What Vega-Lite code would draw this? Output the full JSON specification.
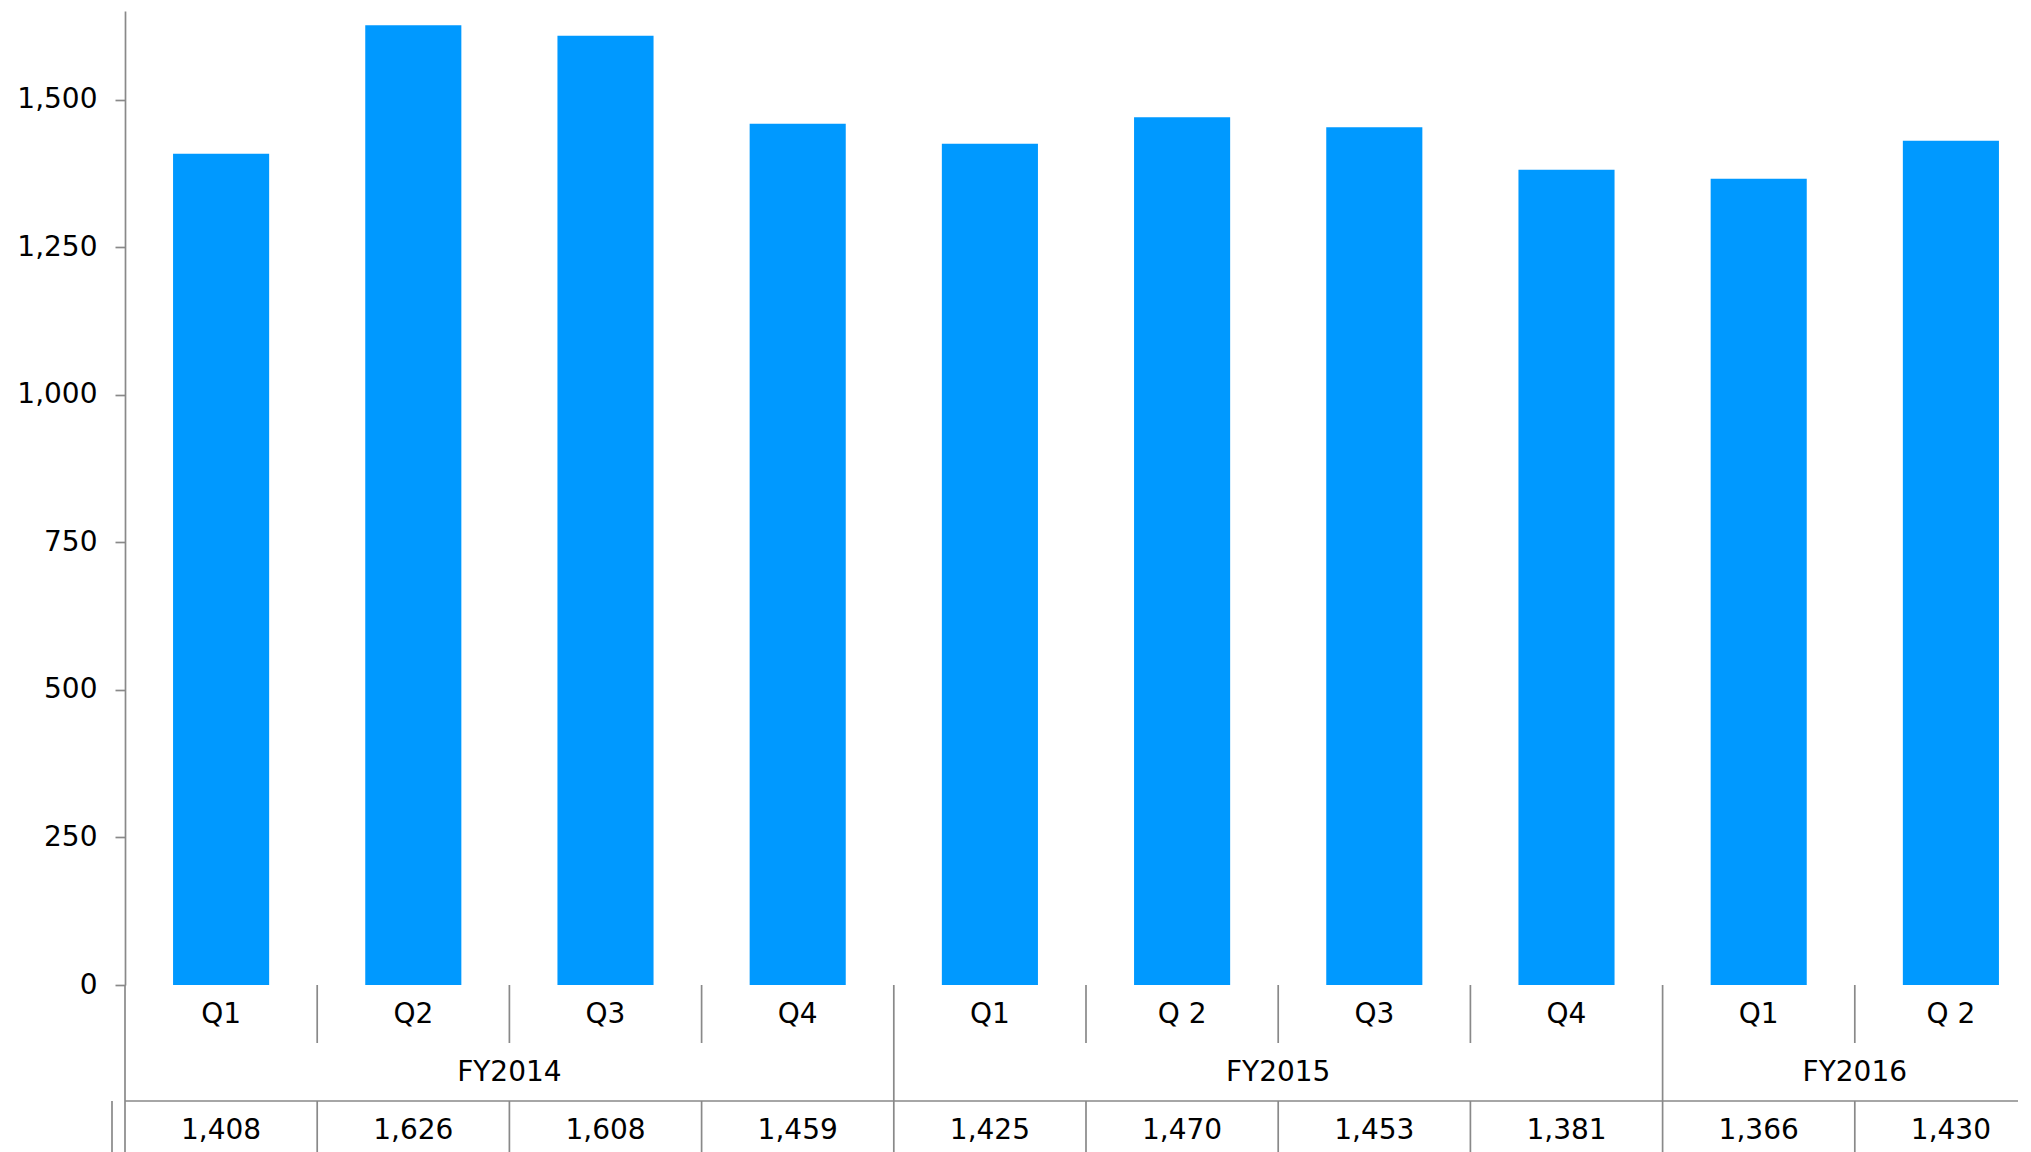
{
  "$schema": "https://vega.github.io/schema/vega-lite/v6.json",
  "width": 1906,
  "height": 974,
  "autosize": {"type": "none"},
  "padding": {"left": 125, "top": 11, "right": 0, "bottom": 167},
  "background": "white",
  "config": {
    "view": {"stroke": null},
    "font": "DejaVu Sans",
    "text": {"font": "DejaVu Sans", "fontSize": 28, "color": "#000000", "dy": 1},
    "rule": {"color": "#898989", "strokeWidth": 1.7}
  },
  "datasets": {
    "quarters": [
      {"period": "FY2014 Q1", "fy": "FY2014", "q": "Q1", "amount": 1408},
      {"period": "FY2014 Q2", "fy": "FY2014", "q": "Q2", "amount": 1626},
      {"period": "FY2014 Q3", "fy": "FY2014", "q": "Q3", "amount": 1608},
      {"period": "FY2014 Q4", "fy": "FY2014", "q": "Q4", "amount": 1459},
      {"period": "FY2015 Q1", "fy": "FY2015", "q": "Q1", "amount": 1425},
      {"period": "FY2015 Q2", "fy": "FY2015", "q": "Q 2", "amount": 1470},
      {"period": "FY2015 Q3", "fy": "FY2015", "q": "Q3", "amount": 1453},
      {"period": "FY2015 Q4", "fy": "FY2015", "q": "Q4", "amount": 1381},
      {"period": "FY2016 Q1", "fy": "FY2016", "q": "Q1", "amount": 1366},
      {"period": "FY2016 Q2", "fy": "FY2016", "q": "Q 2", "amount": 1430}
    ],
    "years": [
      {"fy": "FY2014", "mid": "FY2014 Q3"},
      {"fy": "FY2015", "mid": "FY2015 Q3"},
      {"fy": "FY2016", "mid": "FY2016 Q2"}
    ]
  },
  "data": {"name": "quarters"},
  "resolve": {"scale": {"y": "independent"}},
  "layer": [
    {
      "mark": {"type": "bar", "color": "#0099ff", "width": {"band": 0.5}},
      "encoding": {
        "x": {
          "field": "period",
          "type": "nominal",
          "sort": null,
          "scale": {
            "domain": ["FY2014 Q1", "FY2014 Q2", "FY2014 Q3", "FY2014 Q4", "FY2015 Q1", "FY2015 Q2", "FY2015 Q3", "FY2015 Q4", "FY2016 Q1", "FY2016 Q2"],
            "range": [0, 1922],
            "paddingInner": 0,
            "paddingOuter": 0
          },
          "axis": {"labels": false, "ticks": false, "title": null, "domainColor": "#898989", "domainWidth": 1.7}
        },
        "y": {
          "field": "amount",
          "type": "quantitative",
          "scale": {"domain": [0, 1650], "nice": false},
          "axis": {
            "values": [0, 250, 500, 750, 1000, 1250, 1500],
            "format": ",.0f",
            "labelFont": "DejaVu Sans",
            "labelFontSize": 28,
            "labelColor": "#000000",
            "tickColor": "#898989",
            "tickWidth": 1.7,
            "tickSize": 10,
            "labelPadding": 18,
            "domainColor": "#898989",
            "domainWidth": 1.7,
            "grid": false,
            "title": null
          }
        }
      }
    },
    {
      "mark": {"type": "text"},
      "encoding": {
        "x": {"field": "period", "type": "nominal", "sort": null, "axis": null},
        "y": {"datum": 0.5, "type": "quantitative", "scale": {"domain": [0, 3], "range": [974, 1148], "nice": false, "zero": false}, "axis": null},
        "text": {"field": "q"}
      }
    },
    {
      "mark": {"type": "rule"},
      "encoding": {
        "x": {"field": "period", "type": "nominal", "sort": null, "bandPosition": 0, "axis": null},
        "y": {"datum": 0, "type": "quantitative", "scale": {"domain": [0, 3], "range": [974, 1148], "nice": false, "zero": false}, "axis": null},
        "y2": {"datum": 1}
      }
    },
    {
      "transform": [{"filter": "datum.q === 'Q1'"}],
      "mark": {"type": "rule"},
      "encoding": {
        "x": {"field": "period", "type": "nominal", "sort": null, "bandPosition": 0, "axis": null},
        "y": {"datum": 1, "type": "quantitative", "scale": {"domain": [0, 3], "range": [974, 1148], "nice": false, "zero": false}, "axis": null},
        "y2": {"datum": 2}
      }
    },
    {
      "data": {"name": "years"},
      "mark": {"type": "text"},
      "encoding": {
        "x": {"field": "mid", "type": "nominal", "sort": null, "bandPosition": 0, "axis": null},
        "y": {"datum": 1.5, "type": "quantitative", "scale": {"domain": [0, 3], "range": [974, 1148], "nice": false, "zero": false}, "axis": null},
        "text": {"field": "fy"}
      }
    },
    {
      "mark": {"type": "text"},
      "encoding": {
        "x": {"field": "period", "type": "nominal", "sort": null, "axis": null},
        "y": {"datum": 2.5, "type": "quantitative", "scale": {"domain": [0, 3], "range": [974, 1148], "nice": false, "zero": false}, "axis": null},
        "text": {"field": "amount", "format": ","}
      }
    },
    {
      "mark": {"type": "rule"},
      "encoding": {
        "x": {"field": "period", "type": "nominal", "sort": null, "bandPosition": 0, "axis": null},
        "y": {"datum": 2, "type": "quantitative", "scale": {"domain": [0, 3], "range": [974, 1148], "nice": false, "zero": false}, "axis": null},
        "y2": {"datum": 3}
      }
    },
    {
      "transform": [{"filter": "datum.period === 'FY2014 Q1'"}],
      "mark": {"type": "rule", "xOffset": -13},
      "encoding": {
        "x": {"field": "period", "type": "nominal", "sort": null, "bandPosition": 0, "axis": null},
        "y": {"datum": 2, "type": "quantitative", "scale": {"domain": [0, 3], "range": [974, 1148], "nice": false, "zero": false}, "axis": null},
        "y2": {"datum": 3}
      }
    },
    {
      "transform": [{"filter": "datum.period === 'FY2014 Q1'"}],
      "mark": {"type": "rule", "xOffset": -13, "x2Offset": 30},
      "encoding": {
        "y": {"datum": 2, "type": "quantitative", "scale": {"domain": [0, 3], "range": [974, 1148], "nice": false, "zero": false}, "axis": null}
      }
    }
  ]
}
